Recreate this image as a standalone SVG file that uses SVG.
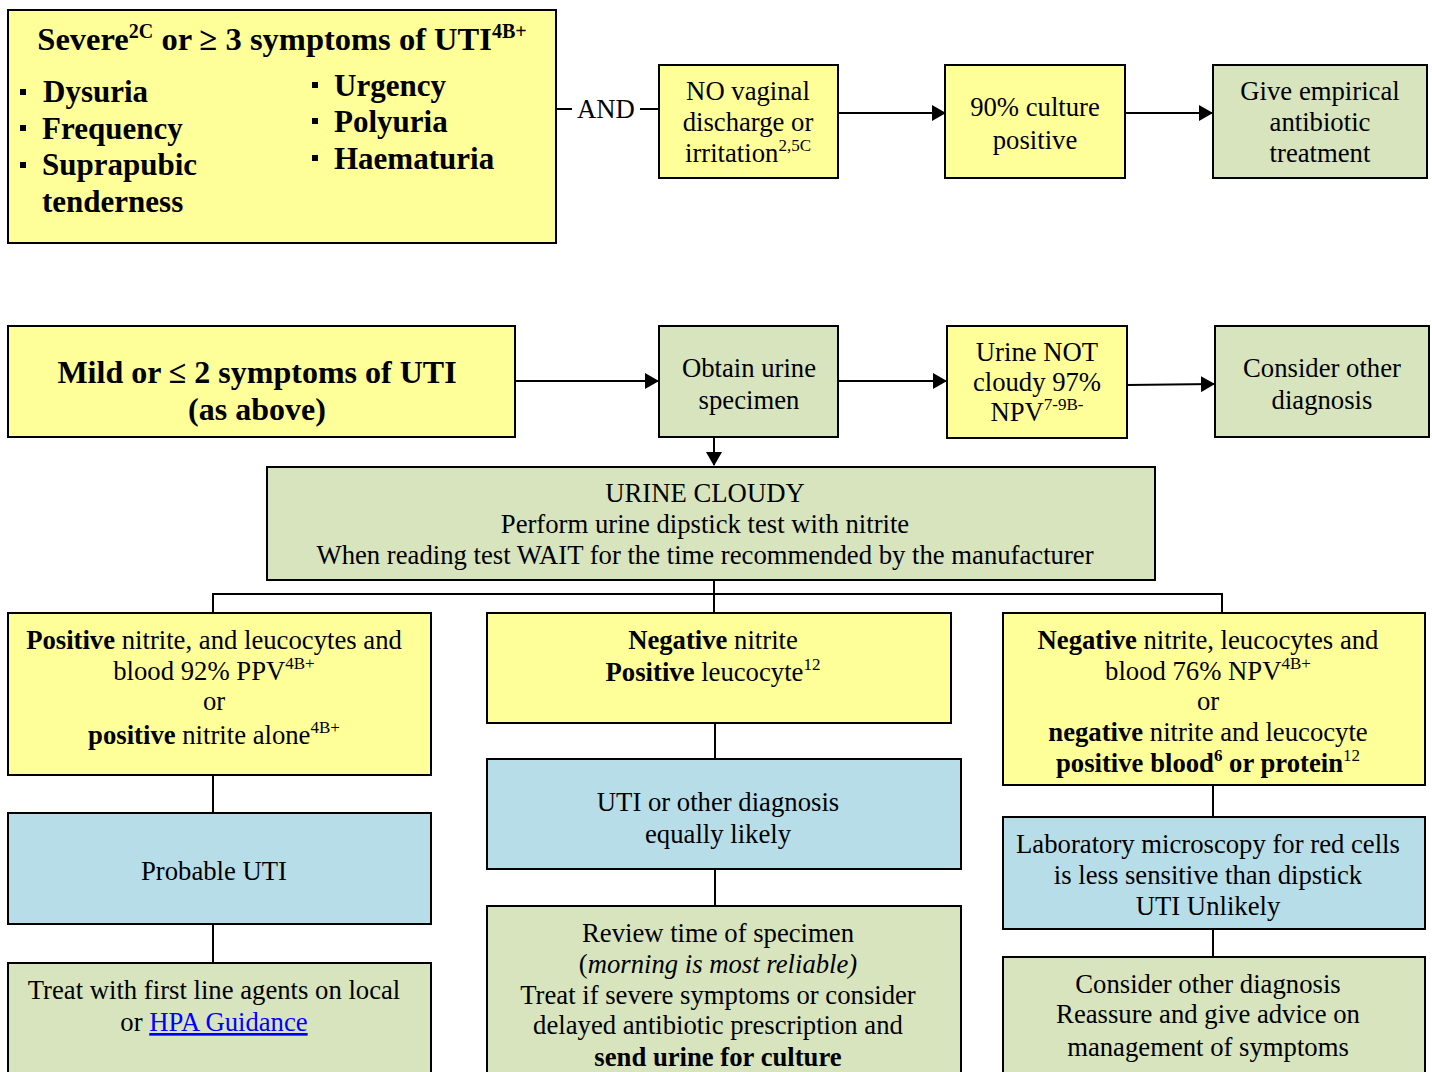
<svg xmlns="http://www.w3.org/2000/svg" width="1432" height="1072" viewBox="0 0 1432 1072">
<defs>
<marker id="arr" markerUnits="userSpaceOnUse" markerWidth="14" markerHeight="16" refX="13" refY="8" orient="auto">
<path d="M0,0 L14,8 L0,16 Z" fill="#000"/>
</marker>
<style>
.box{stroke:#000;stroke-width:2}
.y{fill:#ffff99}
.g{fill:#d7e4bd}
.b{fill:#b7dde8}
text{font-family:"Liberation Serif","Times New Roman",serif;fill:#000}
.t{font-size:26.7px;text-anchor:middle}
.h{font-size:31px;font-weight:bold}
.h2{font-size:32.5px;font-weight:bold}
.h3{font-size:32px;font-weight:bold}
.bd{font-weight:bold}
.sup{font-size:17px}
.sup2{font-size:20px}
.ln{stroke:#000;stroke-width:2;fill:none}
.bul{fill:#000}
</style>
</defs>
<rect width="1432" height="1072" fill="#fff"/>

<g id="connectors">
<line class="ln" x1="556" y1="109" x2="572" y2="109"/>
<line class="ln" x1="640" y1="109" x2="659" y2="109"/>
<line class="ln" x1="838" y1="113" x2="945" y2="113" marker-end="url(#arr)"/>
<line class="ln" x1="1125" y1="113" x2="1212" y2="113" marker-end="url(#arr)"/>
<line class="ln" x1="515" y1="381" x2="658" y2="381" marker-end="url(#arr)"/>
<line class="ln" x1="838" y1="381" x2="946" y2="381" marker-end="url(#arr)"/>
<line class="ln" x1="1127" y1="385" x2="1214" y2="384" marker-end="url(#arr)"/>
<line class="ln" x1="714" y1="437" x2="714" y2="465" marker-end="url(#arr)"/>
<polyline class="ln" points="213,613 213,594 1222,594 1222,613"/>
<line class="ln" x1="714" y1="580" x2="714" y2="613"/>
<line class="ln" x1="213" y1="775" x2="213" y2="813"/>
<line class="ln" x1="213" y1="924" x2="213" y2="963"/>
<line class="ln" x1="715" y1="723" x2="715" y2="759"/>
<line class="ln" x1="715" y1="869" x2="715" y2="906"/>
<line class="ln" x1="1213" y1="785" x2="1213" y2="817"/>
<line class="ln" x1="1213" y1="929" x2="1213" y2="957"/>
<text x="606" y="118" class="t">AND</text>
</g>

<g id="severe">
<rect class="box y" x="8" y="10" width="548" height="233"/>
<text x="282" y="50" class="h2" text-anchor="middle">Severe<tspan class="sup2" dy="-12">2C</tspan><tspan dy="12"> or ≥ 3 symptoms of UTI</tspan><tspan class="sup2" dy="-12">4B+</tspan></text>
<rect class="bul" x="20" y="89" width="6" height="6"/>
<rect class="bul" x="20" y="125" width="6" height="6"/>
<rect class="bul" x="20" y="162" width="6" height="6"/>
<rect class="bul" x="312" y="82" width="6" height="6"/>
<rect class="bul" x="312" y="118" width="6" height="6"/>
<rect class="bul" x="312" y="155" width="6" height="6"/>
<text x="43" y="102" class="h">Dysuria</text>
<text x="42" y="139" class="h">Frequency</text>
<text x="42" y="175" class="h">Suprapubic</text>
<text x="42" y="212" class="h">tenderness</text>
<text x="334" y="96" class="h">Urgency</text>
<text x="334" y="132" class="h">Polyuria</text>
<text x="334" y="169" class="h">Haematuria</text>
</g>

<g id="no-vaginal">
<rect class="box y" x="659" y="65" width="179" height="113"/>
<text x="748" y="100" class="t">NO vaginal</text>
<text x="748" y="131" class="t">discharge or</text>
<text x="748" y="162" class="t">irritation<tspan class="sup" dy="-11">2,5C</tspan></text>
</g>

<g id="culture">
<rect class="box y" x="945" y="65" width="180" height="113"/>
<text x="1035" y="116" class="t">90% culture</text>
<text x="1035" y="149" class="t">positive</text>
</g>

<g id="empirical">
<rect class="box g" x="1213" y="65" width="214" height="113"/>
<text x="1320" y="100" class="t">Give empirical</text>
<text x="1320" y="131" class="t">antibiotic</text>
<text x="1320" y="162" class="t">treatment</text>
</g>

<g id="mild">
<rect class="box y" x="8" y="326" width="507" height="111"/>
<text x="257" y="383" class="h3" text-anchor="middle">Mild or ≤ 2 symptoms of UTI</text>
<text x="257" y="420" class="h3" text-anchor="middle">(as above)</text>
</g>

<g id="obtain">
<rect class="box g" x="659" y="326" width="179" height="111"/>
<text x="749" y="377" class="t">Obtain urine</text>
<text x="749" y="409" class="t">specimen</text>
</g>

<g id="not-cloudy">
<rect class="box y" x="947" y="326" width="180" height="112"/>
<text x="1037" y="361" class="t">Urine NOT</text>
<text x="1037" y="391" class="t">cloudy 97%</text>
<text x="1037" y="421" class="t">NPV<tspan class="sup" dy="-11">7-9B-</tspan></text>
</g>

<g id="consider-top">
<rect class="box g" x="1215" y="326" width="214" height="111"/>
<text x="1322" y="377" class="t">Consider other</text>
<text x="1322" y="409" class="t">diagnosis</text>
</g>

<g id="cloudy">
<rect class="box g" x="267" y="467" width="888" height="113"/>
<text x="705" y="502" class="t">URINE CLOUDY</text>
<text x="705" y="533" class="t">Perform urine dipstick test with nitrite</text>
<text x="705" y="564" class="t">When reading test WAIT for the time recommended by the manufacturer</text>
</g>

<g id="positive">
<rect class="box y" x="8" y="613" width="423" height="162"/>
<text x="214" y="649" class="t"><tspan class="bd">Positive</tspan> nitrite, and leucocytes and</text>
<text x="214" y="680" class="t">blood 92% PPV<tspan class="sup" dy="-11">4B+</tspan></text>
<text x="214" y="710" class="t">or</text>
<text x="214" y="744" class="t"><tspan class="bd">positive</tspan> nitrite alone<tspan class="sup" dy="-11">4B+</tspan></text>
</g>

<g id="neg-nitrite">
<rect class="box y" x="487" y="613" width="464" height="110"/>
<text x="713" y="649" class="t"><tspan class="bd">Negative</tspan> nitrite</text>
<text x="713" y="681" class="t"><tspan class="bd">Positive</tspan> leucocyte<tspan class="sup" dy="-11">12</tspan></text>
</g>

<g id="negative">
<rect class="box y" x="1003" y="613" width="422" height="172"/>
<text x="1208" y="649" class="t"><tspan class="bd">Negative</tspan> nitrite, leucocytes and</text>
<text x="1208" y="680" class="t">blood 76% NPV<tspan class="sup" dy="-11">4B+</tspan></text>
<text x="1208" y="710" class="t">or</text>
<text x="1208" y="741" class="t"><tspan class="bd">negative</tspan> nitrite and leucocyte</text>
<text x="1208" y="772" class="t"><tspan class="bd">positive blood</tspan><tspan class="sup bd" dy="-11">6</tspan><tspan class="bd" dy="11"> or protein</tspan><tspan class="sup" dy="-11">12</tspan></text>
</g>

<g id="probable">
<rect class="box b" x="8" y="813" width="423" height="111"/>
<text x="214" y="880" class="t">Probable UTI</text>
</g>

<g id="equally">
<rect class="box b" x="487" y="759" width="474" height="110"/>
<text x="718" y="811" class="t">UTI or other diagnosis</text>
<text x="718" y="843" class="t">equally likely</text>
</g>

<g id="lab">
<rect class="box b" x="1003" y="817" width="422" height="112"/>
<text x="1208" y="853" class="t">Laboratory microscopy for red cells</text>
<text x="1208" y="884" class="t">is less sensitive than dipstick</text>
<text x="1208" y="915" class="t">UTI Unlikely</text>
</g>

<g id="treat">
<rect class="box g" x="8" y="963" width="423" height="120"/>
<text x="214" y="999" class="t">Treat with first line agents on local</text>
<text x="214" y="1031" class="t">or <tspan fill="#0000ff" text-decoration="underline">HPA Guidance</tspan></text>
</g>

<g id="review">
<rect class="box g" x="487" y="906" width="474" height="180"/>
<text x="718" y="942" class="t">Review time of specimen</text>
<text x="718" y="973" class="t">(<tspan font-style="italic">morning is most reliable)</tspan></text>
<text x="718" y="1004" class="t">Treat if severe symptoms or consider</text>
<text x="718" y="1034" class="t">delayed antibiotic prescription and</text>
<text x="718" y="1066" class="t bd">send urine for culture</text>
</g>

<g id="consider-bottom">
<rect class="box g" x="1003" y="957" width="422" height="130"/>
<text x="1208" y="993" class="t">Consider other diagnosis</text>
<text x="1208" y="1023" class="t">Reassure and give advice on</text>
<text x="1208" y="1056" class="t">management of symptoms</text>
</g>
</svg>
